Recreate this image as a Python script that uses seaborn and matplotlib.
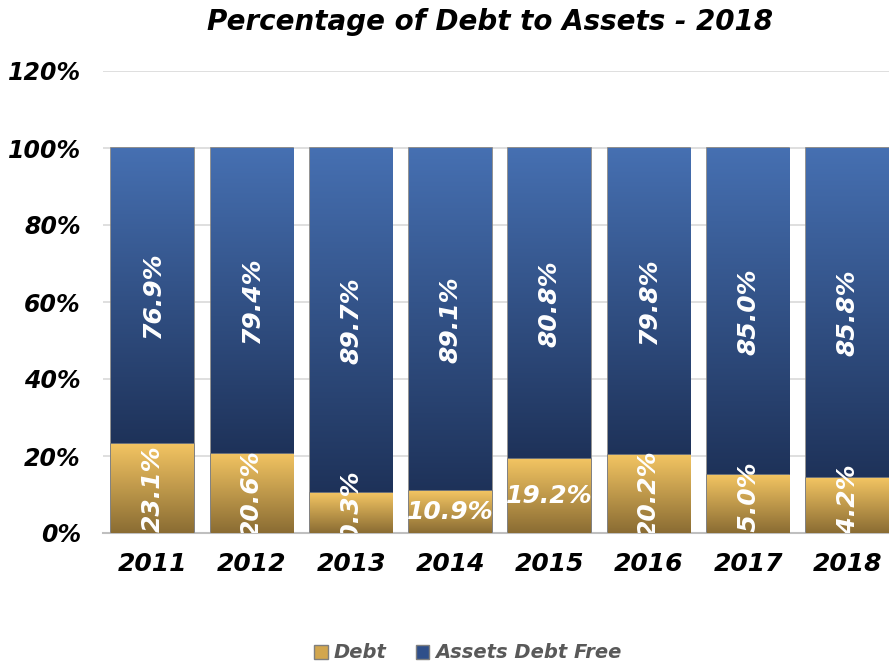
import numpy as np
import matplotlib
matplotlib.use('Agg')
import matplotlib.pyplot as plt
import matplotlib.colors as mcolors
from matplotlib.patches import Patch
import seaborn as sns

# Datos del grafico
years = ['2011', '2012', '2013', '2014', '2015', '2016', '2017', '2018']
debt = [23.1, 20.6, 10.3, 10.9, 19.2, 20.2, 15.0, 14.2]
assets_free = [76.9, 79.4, 89.7, 89.1, 80.8, 79.8, 85.0, 85.8]
# etiquetas de deuda que Excel dejo horizontales
horizontal_debt = ['2014', '2015']

sns.set_style('white')
plt.rcParams['font.family'] = ['DejaVu Sans']

gold_top, gold_bot = '#f2c462', '#8a6c33'
blue_top, blue_bot = '#4670b2', '#1e3259'

fig = plt.figure(figsize=(8.89, 6.65), dpi=100)
ax = fig.add_axes([103 / 889, (665 - 533) / 665, (897 - 103) / 889, (533 - 71) / 665])

totals = [d + a for d, a in zip(debt, assets_free)]
sns.barplot(x=years, y=totals, color=blue_bot, width=0.83, ax=ax,
            edgecolor='#7f7f7f', linewidth=1.2, zorder=2)
sns.barplot(x=years, y=debt, color=gold_bot, width=0.83, ax=ax,
            edgecolor='#7f7f7f', linewidth=1.2, zorder=3)

n = len(years)
blue_patches = ax.patches[:n]
gold_patches = ax.patches[n:2 * n]

def gradient(patch, y0, y1, top, bot, z):
    cmap = mcolors.LinearSegmentedColormap.from_list('g', [bot, top])
    grad = np.linspace(0, 1, 256).reshape(-1, 1)
    x0 = patch.get_x()
    w = patch.get_width()
    im = ax.imshow(grad, cmap=cmap, aspect='auto', origin='lower',
                   extent=(x0, x0 + w, y0, y1), zorder=z, interpolation='bicubic')
    im.set_clip_path(patch)

for i in range(n):
    gradient(blue_patches[i], debt[i], totals[i], blue_top, blue_bot, 2.1)
    gradient(gold_patches[i], 0, debt[i], gold_top, gold_bot, 3.1)

# etiquetas de valores
lbl = dict(color='white', fontsize=18, fontweight='bold', fontstyle='italic',
           ha='center', va='center', zorder=5, clip_on=True)
for i, yr in enumerate(years):
    rot = 0 if yr in horizontal_debt else 90
    ax.text(i, debt[i] / 2, f'{debt[i]:.1f}%', rotation=rot, **lbl)
    ax.text(i, debt[i] + assets_free[i] / 2, f'{assets_free[i]:.1f}%', rotation=90, **lbl)

ax.set_xlim(-0.5, n - 0.5)
ax.set_ylim(0, 120)
ax.set_yticks(range(0, 121, 20))
ax.set_yticklabels([f'{v}%' for v in range(0, 121, 20)])
ax.yaxis.grid(True, color='#d9d9d9', linewidth=1.2, zorder=0)
ax.set_axisbelow(True)
for s in ['left', 'top', 'right']:
    ax.spines[s].set_visible(False)
ax.spines['bottom'].set_color('#bfbfbf')
ax.spines['bottom'].set_linewidth(1.5)
ax.set_xlabel('')
ax.set_ylabel('')

ax.set_xticks(np.arange(n))
ax.set_xticklabels(years)
ax.set_xticks(np.arange(n + 1) - 0.5, minor=True)
ax.tick_params(axis='x', which='major', length=0, pad=14)
ax.tick_params(axis='x', which='minor', length=7, color='#bfbfbf', width=1.2, direction='out')
ax.tick_params(axis='y', length=0, pad=16)
for t in ax.get_xticklabels():
    t.set_fontsize(18)
for t in ax.get_yticklabels():
    t.set_fontsize(17)
for t in ax.get_xticklabels() + ax.get_yticklabels():
    t.set_fontweight('bold')
    t.set_fontstyle('italic')
    t.set_color('black')

fig.text(490 / 889, 1 - 22 / 665, 'Percentage of Debt to Assets - 2018', ha='center', va='center',
         fontsize=20, fontweight='bold', fontstyle='italic', color='black')

handles = [Patch(facecolor='#d2a64e', edgecolor='#7f7f7f', label='Debt'),
           Patch(facecolor='#2f4f8a', edgecolor='#7f7f7f', label='Assets Debt Free')]
leg = fig.legend(handles=handles, loc='center', bbox_to_anchor=(468 / 889, 1 - 653 / 665),
                 ncol=2, frameon=False, handlelength=0.7, handleheight=0.7,
                 handletextpad=0.3, columnspacing=1.5,
                 prop={'size': 14, 'weight': 'bold', 'style': 'italic'})
for t in leg.get_texts():
    t.set_color('#595959')

fig.savefig('out.png', dpi=100)
